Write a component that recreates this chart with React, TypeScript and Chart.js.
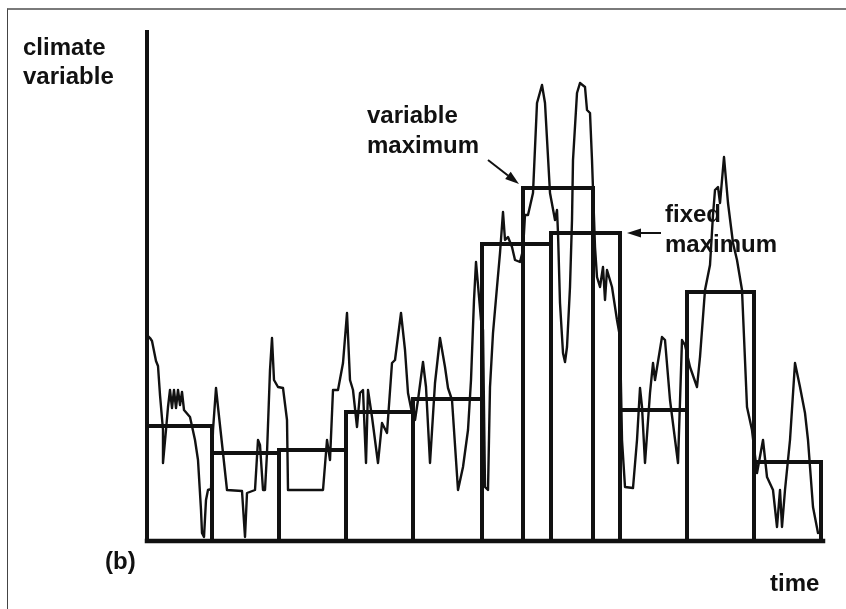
import React, { useEffect, useRef } from "react";
import { Chart, registerables } from "chart.js";

Chart.register(...registerables);

// Climate variable time series (arbitrary units)
const curveTime = [
  0, 3, 5, 9, 11, 13, 16, 16, 19, 21,
  23, 25, 27, 29, 31, 33, 35, 37, 43, 48,
  51, 54, 55, 57, 59, 61, 64, 66, 69, 71,
  76, 80, 95, 98, 100, 108, 111, 113, 116, 118,
  120, 123, 125, 127, 131, 136, 140, 141, 176, 180,
  183, 186, 191, 196, 200, 203, 206, 210, 213, 216,
  219, 221, 225, 231, 235, 240, 245, 248, 254, 258,
  261, 265, 268, 271, 276, 279, 283, 288, 293, 298,
  301, 305, 311, 316, 321, 324, 327, 329, 331, 334,
  336, 338, 341, 343, 346, 350, 353, 356, 358, 361,
  365, 368, 373, 376, 378, 381, 386, 390, 395, 398,
  403, 408, 410, 411, 413, 416, 418, 420, 423, 425,
  426, 430, 433, 438, 440, 443, 445, 448, 450, 453,
  456, 458, 460, 465, 470, 473, 475, 478, 486, 490,
  493, 495, 498, 503, 506, 508, 515, 518, 523, 531,
  535, 538, 543, 550, 553, 558, 563, 566, 568, 571,
  573, 577, 581, 586, 590, 595, 600, 605, 610, 616,
  620, 626, 630, 633, 635, 638, 643, 648, 653, 658,
  661, 666, 671,
];
const curveValue = [
  206, 203, 200, 180, 175, 146, 111, 78, 111, 134,
  151, 133, 151, 133, 151, 136, 149, 131, 124, 101,
  81, 31, 8, 4, 41, 51, 52, 111, 153, 134,
  88, 51, 50, 4, 48, 51, 101, 96, 51, 51,
  88, 171, 203, 161, 154, 153, 121, 51, 51, 101,
  81, 151, 151, 178, 228, 161, 151, 114, 148, 151,
  78, 151, 124, 78, 118, 108, 178, 181, 228, 191,
  148, 128, 121, 141, 179, 154, 78, 158, 203, 174,
  153, 141, 51, 74, 111, 161, 241, 279, 256, 221,
  211, 54, 51, 154, 208, 254, 288, 329, 301, 304,
  294, 281, 279, 291, 326, 326, 348, 438, 456, 438,
  348, 321, 331, 308, 238, 188, 179, 194, 254, 321,
  381, 448, 458, 454, 431, 428, 381, 294, 264, 254,
  274, 241, 271, 254, 221, 204, 101, 54, 53, 101,
  153, 134, 78, 148, 178, 161, 204, 201, 141, 78,
  201, 196, 174, 154, 184, 251, 276, 326, 351, 354,
  338, 384, 338, 298, 281, 251, 134, 111, 68, 101,
  64, 51, 14, 51, 14, 51, 101, 178, 154, 128,
  101, 34, 8,
];

// Fixed-interval maxima boxes
const boxEdges = [0, 65, 132, 199, 266, 335, 404, 473, 540, 607, 674];
const boxMaxima = [115, 88, 91, 129, 142, 297, 308, 131, 249, 79];

// Variable-interval maximum box
const variableBoxStart = 376;
const variableBoxEnd = 446;
const variableBoxMax = 353;

// Axis extents
const timeMax = 674;
const valueMax = 509;

// Annotation arrows (data units)
const arrowFromTime = [341, 514];
const arrowFromValue = [381, 308];
const arrowToTime = [372, 480];
const arrowToValue = [357, 308];

const INK = "#111";
const FONT = 'bold 24px "Liberation Sans", Arial, sans-serif';

const arrowPlugin = {
  id: "arrows",
  afterDatasetsDraw(chart: any) {
    const { ctx, scales } = chart;
    const xs = scales.x;
    const ys = scales.y;
    ctx.save();
    ctx.strokeStyle = INK;
    ctx.fillStyle = INK;
    ctx.lineWidth = 2;
    for (let i = 0; i < arrowFromTime.length; i++) {
      const x0 = xs.getPixelForValue(arrowFromTime[i]);
      const y0 = ys.getPixelForValue(arrowFromValue[i]);
      const x1 = xs.getPixelForValue(arrowToTime[i]);
      const y1 = ys.getPixelForValue(arrowToValue[i]);
      const ang = Math.atan2(y1 - y0, x1 - x0);
      const len = 14;
      const hw = 4.5;
      const bx = x1 - len * Math.cos(ang);
      const by = y1 - len * Math.sin(ang);
      ctx.beginPath();
      ctx.moveTo(x0, y0);
      ctx.lineTo(bx, by);
      ctx.stroke();
      ctx.beginPath();
      ctx.moveTo(x1, y1);
      ctx.lineTo(bx + hw * Math.sin(ang), by - hw * Math.cos(ang));
      ctx.lineTo(bx - hw * Math.sin(ang), by + hw * Math.cos(ang));
      ctx.closePath();
      ctx.fill();
    }
    ctx.restore();
  },
};

function lineDs(points: { x: number; y: number }[], width: number) {
  return {
    data: points,
    showLine: true,
    borderColor: INK,
    borderWidth: width,
    pointRadius: 0,
    pointHoverRadius: 0,
    tension: 0,
    fill: false,
    clip: false as any,
    borderJoinStyle: "miter" as const,
    borderCapStyle: "square" as const,
  };
}

export default function App() {
  const canvasRef = useRef<HTMLCanvasElement | null>(null);

  useEffect(() => {
    if (!canvasRef.current) return;
    const datasets: any[] = [];

    // axes
    datasets.push(lineDs([{ x: 0, y: 0 }, { x: 0, y: valueMax }], 4));
    datasets.push(lineDs([{ x: 0, y: 0 }, { x: timeMax + 2, y: 0 }], 4.5));

    // climate variable curve
    const curve = curveTime.map((t, i) => ({ x: t, y: curveValue[i] }));
    const c = lineDs(curve, 2.4);
    c.borderJoinStyle = "round" as any;
    c.borderCapStyle = "round" as any;
    datasets.push(c);

    // fixed maximum boxes
    boxMaxima.forEach((m, i) => {
      const a = boxEdges[i];
      const b = boxEdges[i + 1];
      datasets.push(
        lineDs(
          [
            { x: a, y: 0 },
            { x: a, y: m },
            { x: b, y: m },
            { x: b, y: 0 },
          ],
          4
        )
      );
    });

    // variable maximum box
    datasets.push(
      lineDs(
        [
          { x: variableBoxStart, y: 0 },
          { x: variableBoxStart, y: variableBoxMax },
          { x: variableBoxEnd, y: variableBoxMax },
          { x: variableBoxEnd, y: 0 },
        ],
        4
      )
    );

    const chart = new Chart(canvasRef.current, {
      type: "scatter",
      data: { datasets },
      options: {
        animation: false,
        responsive: false,
        events: [],
        layout: { padding: { left: 147, right: 25, top: 32, bottom: 68 } },
        plugins: {
          legend: { display: false },
          tooltip: { enabled: false },
          title: { display: false },
        },
        scales: {
          x: { type: "linear", min: 0, max: timeMax, display: false },
          y: { type: "linear", min: 0, max: valueMax, display: false },
        },
      },
      plugins: [arrowPlugin],
    });
    return () => chart.destroy();
  }, []);

  const label = (text: string[], left: number, top: number, lh = 30) => (
    <div
      style={{
        position: "absolute",
        left,
        top,
        font: FONT,
        lineHeight: lh + "px",
        color: INK,
        whiteSpace: "nowrap",
      }}
    >
      {text.map((t, i) => (
        <div key={i}>{t}</div>
      ))}
    </div>
  );

  return (
    <div
      style={{
        position: "fixed",
        left: 0,
        top: 0,
        width: 846,
        height: 609,
        background: "#fff",
        overflow: "hidden",
      }}
    >
      <div
        style={{
          position: "absolute",
          left: 7,
          top: 8,
          width: 1000,
          height: 1000,
          borderTop: "2px solid #7a7a7a",
          borderLeft: "1px solid #444",
        }}
      />
      <canvas
        ref={canvasRef}
        width={846}
        height={609}
        style={{ position: "absolute", left: 0, top: 0, display: "block" }}
      />
      {label(["climate", "variable"], 23, 32, 29)}
      {label(["variable", "maximum"], 367, 100)}
      {label(["fixed", "maximum"], 665, 199)}
      {label(["(b)"], 105, 546)}
      {label(["time"], 770, 568)}
    </div>
  );
}
